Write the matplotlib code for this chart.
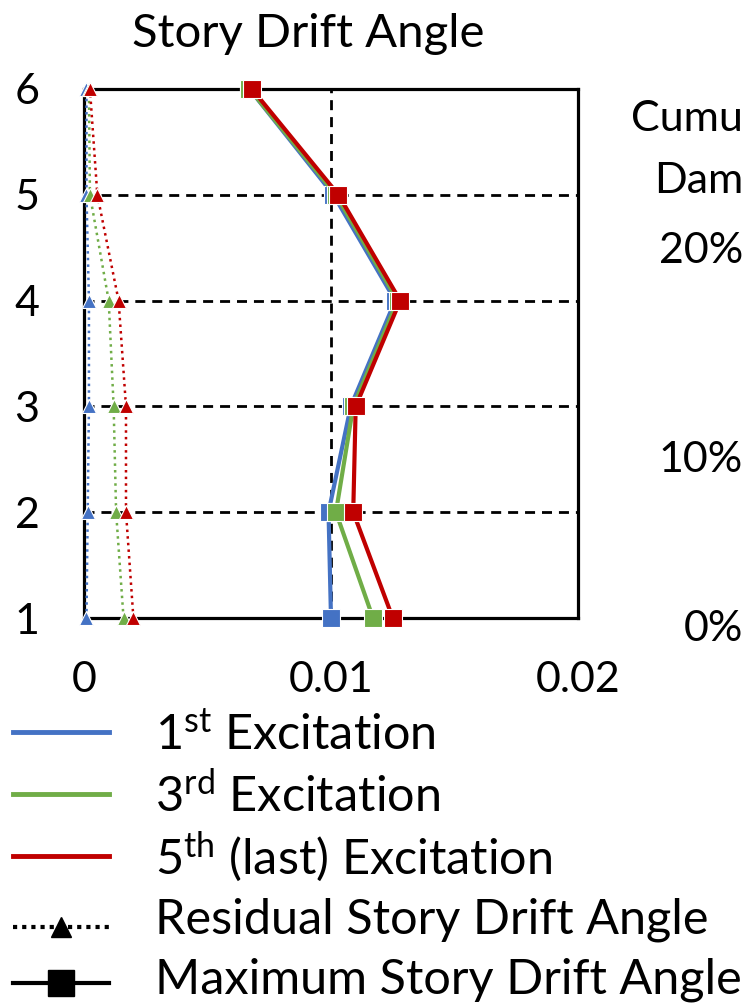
import matplotlib
matplotlib.use("Agg")
import matplotlib.pyplot as plt
from matplotlib.lines import Line2D

plt.rcParams['font.family'] = ['Lato', 'DejaVu Sans']
plt.rcParams['mathtext.fontset'] = 'custom'
plt.rcParams['mathtext.rm'] = 'Lato'
plt.rcParams['mathtext.it'] = 'Lato:italic'
plt.rcParams['mathtext.bf'] = 'Lato:bold'

# story number (y) and drift angles (x)
stories = [1, 2, 3, 4, 5, 6]
max_1st = [0.0100, 0.0099, 0.0108, 0.0126, 0.0101, 0.0067]
max_3rd = [0.0117, 0.0102, 0.0109, 0.0127, 0.0102, 0.0067]
max_5th = [0.0125, 0.0109, 0.0110, 0.0128, 0.0103, 0.0068]
res_1st = [0.0001, 0.00015, 0.0002, 0.0002, 0.0001, 0.0001]
res_3rd = [0.0016, 0.0013, 0.0012, 0.0010, 0.00024, 0.0002]
res_5th = [0.0020, 0.0017, 0.0017, 0.0014, 0.00054, 0.00024]

xticks = [0, 0.01, 0.02]
xticklabels = ['0', '0.01', '0.02']
labels = [r'1$^{\mathrm{st}}$ Excitation', r'3$^{\mathrm{rd}}$ Excitation',
          r'5$^{\mathrm{th}}$ (last) Excitation',
          'Residual Story Drift Angle', 'Maximum Story Drift Angle']
# labels of the next panel, cut by the right edge
side_texts = ['Cumu', 'Dam', '20%', '10%', '0%']

blue = '#4472C4'
green = '#70AD47'
red = '#C00000'

W, H = 745, 1008
fig = plt.figure(figsize=(W/100, H/100), dpi=100)
ax = fig.add_axes([84/W, 1-618/H, 494/W, 529/H])

for r, c in zip([res_1st, res_3rd, res_5th], [blue, green, red]):
    ax.plot(r, stories, color=c, ls=':', lw=1.8, marker='^', ms=10,
            mec='white', mew=0.8, clip_on=False, zorder=4)
for m, c in zip([max_1st, max_3rd, max_5th], [blue, green, red]):
    ax.plot(m, stories, color=c, ls='-', lw=3, marker='s', ms=12.5,
            mec='white', mew=0.8, clip_on=False, zorder=5)

ax.set_xlim(0, 0.02)
ax.set_ylim(1, 6)
ax.set_xticks(xticks)
ax.set_xticklabels(xticklabels)
ax.set_yticks(stories)
ax.tick_params(length=0, labelsize=31)
ax.tick_params(axis='y', pad=32)
ax.tick_params(axis='x', pad=31)
ax.grid(True, color='black', lw=2, ls=(0, (3.6, 2.5)), zorder=1)
ax.set_axisbelow(True)
for s in ax.spines.values():
    s.set_linewidth(2.3)
    s.set_zorder(3)

fig.text(308/W, 1-47/H, 'Story Drift Angle', ha='center', va='baseline', fontsize=34)

side_y = [131, 193, 263, 472, 641]
for t, y in zip(side_texts, side_y):
    fig.text(743/W, 1-y/H, t, ha='right', va='baseline', fontsize=31)

# legend, laid out row by row
base_y = [750, 812, 874, 933, 994]
hand_y = [732, 794, 856, 927, 983]
styles = [dict(color=blue, lw=3.5), dict(color=green, lw=3.5), dict(color=red, lw=3.5),
          dict(color='black', ls=(0, (1, 1.2)), lw=3, marker='^', ms=15, markevery=[1]),
          dict(color='black', ls='-', lw=3, marker='s', ms=19, markevery=[1])]
for lab, by, hy, st in zip(labels, base_y, hand_y, styles):
    fig.add_artist(Line2D([13/W, 61/W, 109/W], [1-hy/H]*3, transform=fig.transFigure, **st))
    fig.text(155/W, 1-by/H, lab, ha='left', va='baseline', fontsize=35)

fig.savefig('out.png', dpi=100)
